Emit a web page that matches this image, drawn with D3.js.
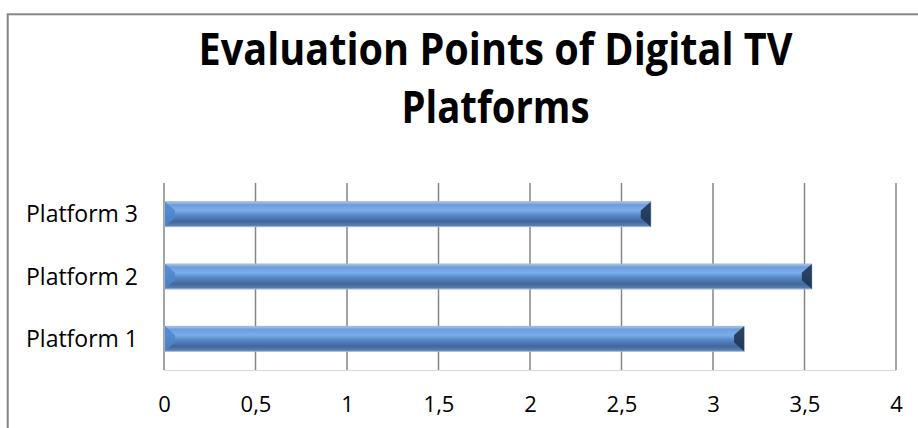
<!DOCTYPE html>
<html><head><meta charset="utf-8">
<script src="https://cdn.jsdelivr.net/npm/d3@7"></script>
<style>html,body{margin:0;padding:0;background:#fff;}svg{display:block;}</style>
</head><body>
<script>
const categories = ["Platform 1", "Platform 2", "Platform 3"];
const values = [3.17, 3.54, 2.66];
const tickValues = [0, 0.5, 1, 1.5, 2, 2.5, 3, 3.5, 4];
const tickLabels = ["0", "0,5", "1", "1,5", "2", "2,5", "3", "3,5", "4"];
const titleLines = ["Evaluation Points of Digital TV", "Platforms"];

const W = 918, H = 428;
const svg = d3.select("body").append("svg").attr("width", W).attr("height", H);
const font = "'Open Sans', Lato, sans-serif";

// outer border
svg.append("rect").attr("x", 7.7).attr("y", 14.3).attr("width", 940).attr("height", 440)
  .attr("fill", "#fff").attr("stroke", "#868686").attr("stroke-width", 2);

const defs = svg.append("defs");
const g1 = defs.append("linearGradient").attr("id", "barGrad").attr("x1", 0).attr("y1", 0).attr("x2", 0).attr("y2", 1);
[["0%", "#aac6ea"], ["12%", "#6f9ddb"], ["35%", "#7cadea"], ["55%", "#5587c6"], ["80%", "#42669a"], ["100%", "#5f86b8"]]
  .forEach(([o, c]) => g1.append("stop").attr("offset", o).attr("stop-color", c));

const x = d3.scaleLinear().domain([0, 4]).range([164, 896]);
const y = d3.scaleBand().domain(categories.slice().reverse()).range([183, 370]).paddingInner(0.6).paddingOuter(0.3);

// gridlines
svg.append("g").selectAll("line").data(tickValues).join("line")
  .attr("x1", d => x(d)).attr("x2", d => x(d)).attr("y1", 183).attr("y2", 370)
  .attr("stroke", "#868686").attr("stroke-width", 1.5);
// bottom axis line
svg.append("line").attr("x1", x(0)).attr("x2", x(4)).attr("y1", 370.5).attr("y2", 370.5)
  .attr("stroke", "#d9d9d9").attr("stroke-width", 1);

// x tick labels
const xAxis = d3.axisBottom(x).tickValues(tickValues).tickFormat((d, i) => tickLabels[i]).tickSize(0).tickPadding(0);
const xa = svg.append("g").attr("transform", "translate(0,412)").call(xAxis);
xa.select(".domain").remove();
xa.selectAll("text").attr("font-family", font).attr("font-size", 22).attr("fill", "#000").attr("dy", null);

// y labels
const yAxis = d3.axisLeft(y).tickSize(0).tickPadding(26);
const ya = svg.append("g").attr("transform", `translate(${x(0)},0)`).call(yAxis);
ya.select(".domain").remove();
ya.selectAll("text").attr("font-family", font).attr("font-size", 23).attr("fill", "#000").attr("dy", "0.36em");

// bars
const data = categories.map((c, i) => ({c, v: values[i]}));
const bg = svg.append("g");
const b = 10;
data.forEach(d => {
  const x0 = x(0) + 1, x1 = x(d.v), t = y(d.c), h = y.bandwidth(), bt = t + h;
  bg.append("rect").attr("x", x0).attr("y", t).attr("width", x1 - x0).attr("height", h)
    .attr("fill", "url(#barGrad)").attr("stroke", "#9bb7dc").attr("stroke-width", 1);
  bg.append("path").attr("d", `M${x0},${t}L${x0 + b},${t + 0.35*h}L${x0 + b},${bt - 0.35*h}L${x0},${bt}Z`)
    .attr("fill", "#4f86cc").attr("opacity", 0.85);
  bg.append("path").attr("d", `M${x1},${t}L${x1 - b},${t + 0.35*h}L${x1 - b},${bt - 0.35*h}L${x1},${bt}Z`)
    .attr("fill", "#1f3552").attr("opacity", 0.9);
});

// title
const titleWidths = [594, 188];
svg.append("g").selectAll("text").data(titleLines).join("text")
  .attr("x", 495.5).attr("y", (d, i) => i === 0 ? 65 : 123)
  .attr("text-anchor", "middle").attr("font-family", font).attr("font-weight", "bold")
  .attr("font-size", 44).attr("fill", "#000")
  .attr("textLength", (d, i) => titleWidths[i]).attr("lengthAdjust", "spacingAndGlyphs")
  .text(d => d);
</script>
</body></html>
